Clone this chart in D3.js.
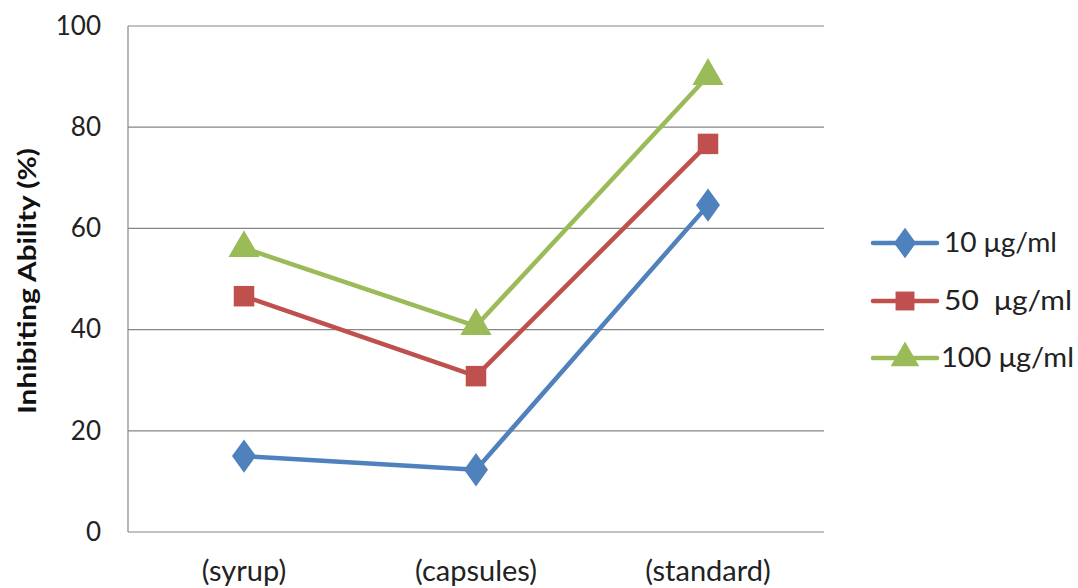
<!DOCTYPE html>
<html><head><meta charset="utf-8">
<script src="https://cdn.jsdelivr.net/npm/d3@7/dist/d3.min.js"></script>
<style>body{margin:0;background:#fff}svg{display:block}text{font-family:Lato,"Open Sans",sans-serif}</style>
</head><body><svg id="c" width="1078" height="588"></svg>
<script>
const categories = ["(syrup)", "(capsules)", "(standard)"];
const seriesNames = ["10 μg/ml", "50  μg/ml", "100 μg/ml"];
const s10 = [15.0, 12.3, 64.6];
const s50 = [46.6, 30.8, 76.7];
const s100 = [56.1, 40.7, 90.1];
const yTicks = [0, 20, 40, 60, 80, 100];
const colors = ["#4F81BD", "#C0504D", "#9BBB59"];
const symbols = [d3.symbolDiamond, d3.symbolSquare, d3.symbolTriangle];

const series = [s10, s50, s100];
const svg = d3.select("#c");
const L = 128, R = 824, T = 26, B = 532;
const x = d3.scaleBand().domain(categories).range([L, R]);
const y = d3.scaleLinear().domain([0, 100]).range([B, T]);

const g = svg.append("g");
g.selectAll("line.grid").data(yTicks).join("line")
  .attr("x1", L).attr("x2", R).attr("y1", d => y(d)).attr("y2", d => y(d))
  .attr("stroke", "#868686").attr("stroke-width", 1.2);
g.append("line").attr("x1", L).attr("x2", L).attr("y1", T).attr("y2", B)
  .attr("stroke", "#868686").attr("stroke-width", 1.2);

const yAxis = svg.append("g").attr("transform", `translate(${L},0)`)
  .call(d3.axisLeft(y).tickValues(yTicks).tickSize(0).tickPadding(27));
yAxis.select(".domain").remove();
yAxis.selectAll("text").attr("font-size", 26).attr("fill", "#222").style("font-family", "Lato,'Open Sans',sans-serif");

const xAxis = svg.append("g").attr("transform", `translate(0,${B})`)
  .call(d3.axisBottom(x).tickSize(0).tickPadding(28));
xAxis.select(".domain").remove();
xAxis.selectAll("text").attr("font-size", 29).attr("fill", "#222").style("font-family", "Lato,'Open Sans',sans-serif");

svg.append("text").attr("transform", "translate(36,281) rotate(-90)")
  .attr("text-anchor", "middle").attr("font-size", 24).attr("font-weight", "bold").attr("fill", "#111")
  .attr("textLength", 266).attr("lengthAdjust", "spacingAndGlyphs")
  .text("Inhibiting Ability (%)");

const line = d3.line().x((d, i) => x(categories[i]) + x.bandwidth() / 2).y(d => y(d));
const symSize = [320, 420, 420];
series.forEach((s, k) => {
  svg.append("path").datum(s).attr("d", line).attr("fill", "none")
    .attr("stroke", colors[k]).attr("stroke-width", 4.5).attr("stroke-linejoin", "round");
  svg.selectAll(null).data(s).join("path")
    .attr("transform", (d, i) => `translate(${x(categories[i]) + x.bandwidth() / 2},${y(d)})` + (k === 0 ? " scale(1.25,1)" : ""))
    .attr("d", d3.symbol().type(symbols[k]).size(symSize[k])).attr("fill", colors[k]);
});

const legY = [243, 301, 358];
const legW = [113, 128, 133];
const lg = svg.append("g");
seriesNames.forEach((n, k) => {
  lg.append("line").attr("x1", 873).attr("x2", 937).attr("y1", legY[k]).attr("y2", legY[k])
    .attr("stroke", colors[k]).attr("stroke-width", 4.5).attr("stroke-linecap", "round");
  lg.append("path").attr("transform", `translate(905,${legY[k]})` + (k === 0 ? " scale(1.25,1)" : ""))
    .attr("d", d3.symbol().type(symbols[k]).size(symSize[k] * 0.85)).attr("fill", colors[k]);
  lg.append("text").attr("x", k === 2 ? 941 : 944).attr("y", legY[k]).attr("dy", "0.36em")
    .attr("font-size", 26).attr("fill", "#222").attr("xml:space", "preserve").style("white-space", "pre")
    .attr("textLength", legW[k]).attr("lengthAdjust", "spacingAndGlyphs").text(n);
});
</script></body></html>
